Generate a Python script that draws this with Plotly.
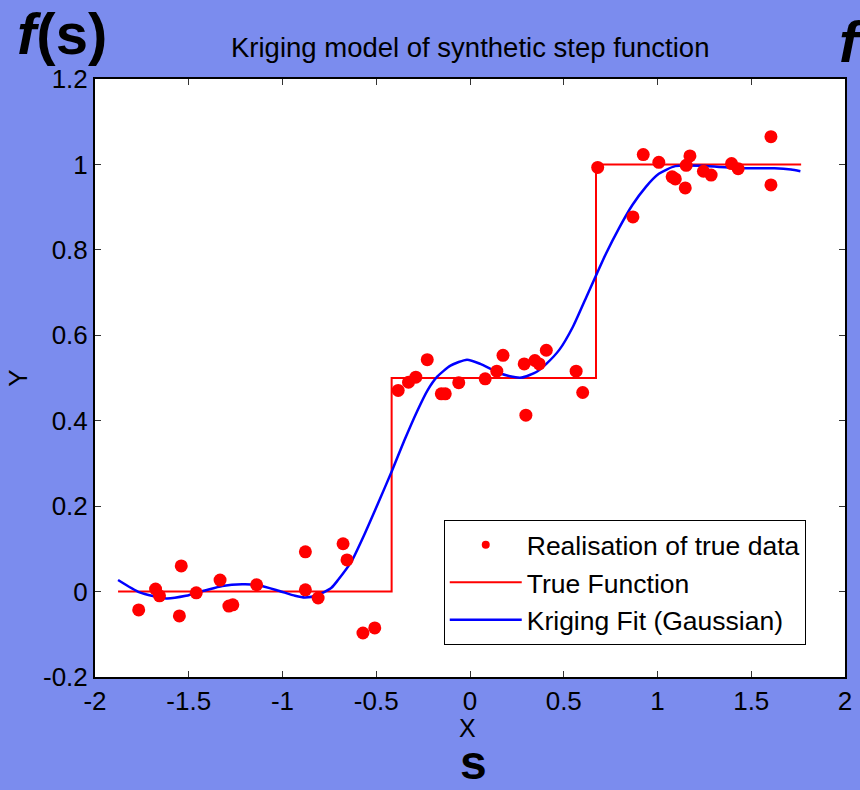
import plotly.graph_objects as go

# Noisy observations of the step function
obs_x = [-1.767, -1.677, -1.656, -1.540, -1.550, -1.460, -1.333, -1.286, -1.265, -1.138,
         -0.878, -0.878, -0.810, -0.677, -0.656, -0.571, -0.508,
         -0.383, -0.328, -0.289, -0.228, -0.153, -0.132, -0.060, 0.081, 0.143, 0.176,
         0.289, 0.298, 0.346, 0.369, 0.407, 0.566, 0.601,
         0.681, 0.869, 0.924, 1.007, 1.078, 1.095, 1.148, 1.153, 1.173, 1.245, 1.286,
         1.395, 1.430, 1.605, 1.605]
obs_y = [-0.043, 0.006, -0.010, 0.060, -0.057, -0.003, 0.027, -0.034, -0.031, 0.016,
         0.093, 0.004, -0.015, 0.112, 0.074, -0.097, -0.085,
         0.471, 0.490, 0.502, 0.543, 0.463, 0.463, 0.489, 0.498, 0.516, 0.553,
         0.533, 0.413, 0.541, 0.533, 0.565, 0.516, 0.466,
         0.993, 0.877, 1.023, 1.005, 0.971, 0.966, 0.945, 0.998, 1.020, 0.984, 0.975,
         1.002, 0.990, 1.065, 0.952]

# True step function (breakpoints, drawn with horizontal-then-vertical steps)
step_x = [-1.877, -0.418, 0.672, 1.766]
step_y = [0.0, 0.5, 1.0, 1.0]

# Kriging prediction with a Gaussian correlation model
fit_x = [-1.877, -1.762, -1.621, -1.515, -1.409, -1.321, -1.215, -1.127, -1.021, -0.933,
         -0.880, -0.810, -0.739, -0.704, -0.633, -0.562, -0.492, -0.416, -0.351, -0.280,
         -0.228, -0.175, -0.104, -0.016, 0.055, 0.143, 0.213, 0.275, 0.354, 0.407,
         0.478, 0.549, 0.619, 0.672, 0.725, 0.795, 0.866, 0.937, 1.007, 1.095,
         1.272, 1.448, 1.624, 1.712, 1.762]
fit_y = [0.027, -0.002, -0.016, -0.010, 0.003, 0.013, 0.017, 0.015, 0.002, -0.010,
         -0.014, -0.008, 0.009, 0.027, 0.070, 0.135, 0.205, 0.283, 0.353, 0.424,
         0.470, 0.503, 0.529, 0.543, 0.533, 0.514, 0.504, 0.501, 0.514, 0.533,
         0.567, 0.620, 0.688, 0.740, 0.791, 0.851, 0.905, 0.947, 0.978, 0.996,
         0.996, 0.991, 0.991, 0.988, 0.984]

x_ticks = [-2, -1.5, -1, -0.5, 0, 0.5, 1, 1.5, 2]
x_tick_text = ["-2", "-1.5", "-1", "-0.5", "0", "0.5", "1", "1.5", "2"]
y_ticks = [-0.2, 0, 0.2, 0.4, 0.6, 0.8, 1.0, 1.2]
y_tick_text = ["-0.2", "0", "0.2", "0.4", "0.6", "0.8", "1", "1.2"]

FONT = "Arial, Liberation Sans, Helvetica, sans-serif"
BG = "#7b8cee"

fig = go.Figure()

fig.add_trace(go.Scatter(
    x=step_x, y=step_y, mode="lines", line_shape="hv",
    line=dict(color="#ff0000", width=2), showlegend=False, hoverinfo="skip"))
fig.add_trace(go.Scatter(
    x=fit_x, y=fit_y, mode="lines",
    line=dict(color="#0000ff", width=2.5, shape="spline", smoothing=0.6),
    showlegend=False))
fig.add_trace(go.Scatter(
    x=obs_x, y=obs_y, mode="markers",
    marker=dict(color="#ff0000", size=13), showlegend=False))

# Legend entries
fig.add_trace(go.Scatter(x=[None], y=[None], mode="markers",
                         marker=dict(color="#ff0000", size=8),
                         name="Realisation of true data"))
fig.add_trace(go.Scatter(x=[None], y=[None], mode="lines",
                         line=dict(color="#ff0000", width=2),
                         name="True Function"))
fig.add_trace(go.Scatter(x=[None], y=[None], mode="lines",
                         line=dict(color="#0000ff", width=2.5),
                         name="Kriging Fit (Gaussian)"))

L, R, T, B = 95, 8, 79, 113
W, H = 860, 790
pw, ph = W - L - R, H - T - B


def px(x):
    return (x - L) / pw


def py(y):
    return (H - B - y) / ph


axis_common = dict(showline=True, linecolor="black", linewidth=2, mirror="ticks",
                   ticks="inside", ticklen=6, tickcolor="#333333", tickwidth=1,
                   showgrid=False, zeroline=False,
                   tickfont=dict(family=FONT, size=26, color="black"))

fig.update_layout(
    width=W, height=H,
    margin=dict(l=L, r=R, t=T, b=B),
    paper_bgcolor=BG, plot_bgcolor="white",
    xaxis=dict(range=[-2, 2], tickvals=x_ticks, ticktext=x_tick_text, **axis_common),
    yaxis=dict(range=[-0.2, 1.2], tickvals=y_ticks, ticktext=y_tick_text, **axis_common),
    legend=dict(x=px(447), y=py(520), xanchor="left", yanchor="top",
                bgcolor="white", bordercolor="black", borderwidth=1,
                font=dict(family=FONT, size=26.5, color="black"),
                itemwidth=72, tracegroupgap=0),
    font=dict(family=FONT, color="black"),
    annotations=[
        dict(text="Kriging model of synthetic step function", xref="paper", yref="paper",
             x=0.5, y=py(48), xanchor="center", yanchor="middle", showarrow=False,
             font=dict(size=27.5, color="black")),
        dict(text="X", xref="paper", yref="paper", x=px(471), y=py(728),
             xanchor="center", yanchor="middle", showarrow=False,
             font=dict(size=25, color="black")),
        dict(text="Y", xref="paper", yref="paper", x=px(17), y=py(378),
             xanchor="center", yanchor="middle", textangle=-90, showarrow=False,
             font=dict(size=26, color="black")),
        dict(text="<b><i>f</i>(s)</b>", xref="paper", yref="paper", x=px(14), y=py(34),
             xanchor="left", yanchor="middle", showarrow=False,
             font=dict(size=58, color="black")),
        dict(text="<b><i>f</i></b>", xref="paper", yref="paper", x=px(844), y=py(42),
             xanchor="left", yanchor="middle", showarrow=False,
             font=dict(size=58, color="black")),
        dict(text="<b>s</b>", xref="paper", yref="paper", x=px(477), y=py(763),
             xanchor="center", yanchor="middle", showarrow=False,
             font=dict(size=48, color="black")),
    ],
)

fig.write_html("out.html")
